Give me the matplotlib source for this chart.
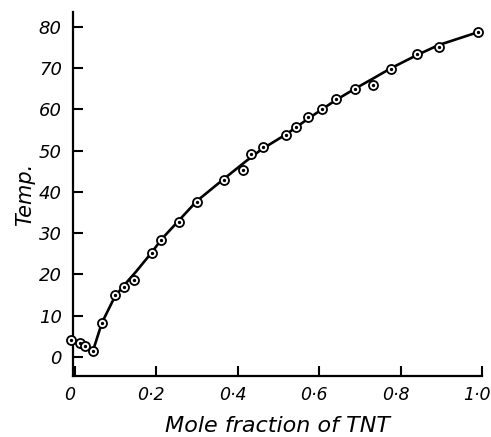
import matplotlib.pyplot as plt
from matplotlib.transforms import ScaledTranslation

# measured points (mole fraction TNT, temperature)
mole_frac = [-0.008, 0.013, 0.026, 0.045, 0.067, 0.099, 0.121, 0.145, 0.189,
             0.213, 0.256, 0.301, 0.367, 0.413, 0.434, 0.463, 0.520, 0.544,
             0.574, 0.607, 0.642, 0.688, 0.733, 0.777, 0.841, 0.894, 0.990]
temp = [4.1, 3.5, 2.7, 1.5, 8.3, 15.0, 16.9, 18.7, 25.1,
        28.4, 32.8, 37.6, 42.9, 45.3, 49.2, 51.0, 53.8, 55.7,
        58.1, 60.1, 62.5, 65.0, 65.9, 69.8, 73.5, 75.2, 78.7]

# hand-drawn curve
curve_x = [-0.008, 0.013, 0.026, 0.045, 0.067, 0.099, 0.125, 0.15, 0.189,
           0.213, 0.256, 0.30, 0.367, 0.42, 0.46, 0.52, 0.574, 0.607,
           0.642, 0.688, 0.733, 0.777, 0.841, 0.894, 0.99]
curve_y = [4.1, 3.5, 2.7, 1.5, 8.3, 14.7, 17.8, 20.6, 25.3,
           28.5, 33.1, 37.8, 43.2, 47.4, 50.4, 54.0, 57.8, 60.0,
           62.3, 65.0, 67.5, 70.0, 73.2, 75.6, 78.7]

xticks = [0, 0.2, 0.4, 0.6, 0.8, 1.0]
xtick_labels = ["0", "0·2", "0·4", "0·6", "0·8", "1·0"]
yticks = [0, 10, 20, 30, 40, 50, 60, 70, 80]

plt.rcParams["font.family"] = "DejaVu Sans"
plt.rcParams["font.style"] = "italic"

fig = plt.figure(figsize=(4.91, 4.37), dpi=100)
ax = fig.add_axes([0.1487, 0.1396, 0.833, 0.833])

ax.plot(curve_x, curve_y, color="black", lw=1.9, zorder=2)
ax.plot(mole_frac, temp, "o", ms=6.5, mfc="white", mec="black", mew=1.3,
        zorder=3, clip_on=False)
ax.plot(mole_frac, temp, "o", ms=1.4, color="black", zorder=4, clip_on=False)

ax.set_xlim(-0.004, 1.0)
ax.set_ylim(-4.6, 83.6)
ax.set_xticks(xticks)
ax.set_xticklabels(xtick_labels)
ax.set_yticks(yticks)

for s in ["top", "right"]:
    ax.spines[s].set_visible(False)
for s in ["left", "bottom"]:
    ax.spines[s].set_linewidth(1.6)

ax.tick_params(direction="in", length=7, width=1.5, pad=7)
ax.tick_params(axis="y", labelsize=13, pad=8)
ax.tick_params(axis="x", labelsize=12.5)

# italic labels sit a little left of their ticks
shift = ScaledTranslation(-5 / 100, 0, fig.dpi_scale_trans)
for lab in ax.get_xticklabels():
    lab.set_transform(lab.get_transform() + shift)

ax.set_xlabel("Mole fraction of TNT", fontsize=16, labelpad=9)
ax.set_ylabel("Temp.", fontsize=15, labelpad=3)

fig.savefig("out.png", dpi=100)
